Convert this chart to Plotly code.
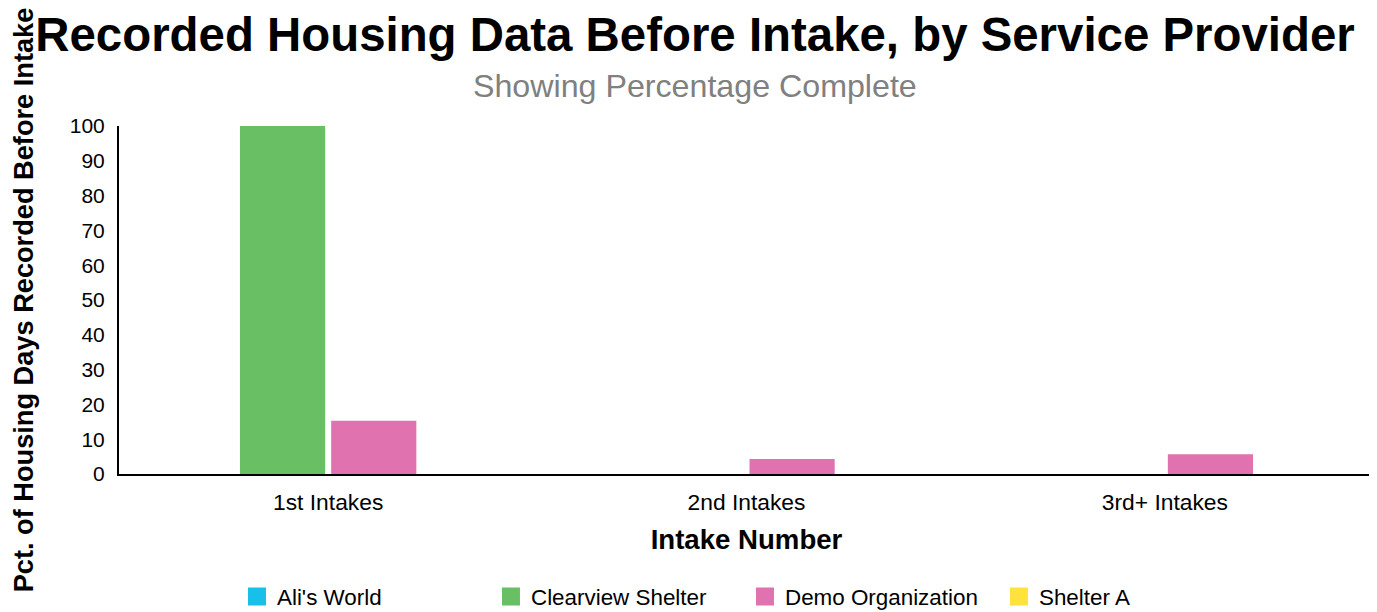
import plotly.graph_objects as go

categories = ["1st Intakes", "2nd Intakes", "3rd+ Intakes"]
providers = ["Ali's World", "Clearview Shelter", "Demo Organization", "Shelter A"]
alis_world = [0, 0, 0]
clearview_shelter = [100, 0, 0]
demo_organization = [15.3, 4.3, 5.7]
shelter_a = [0, 0, 0]
colors = ["#17C0E8", "#69BF63", "#E072B0", "#FFE33C"]
y_ticks = [0, 10, 20, 30, 40, 50, 60, 70, 80, 90, 100]

FONT = "Liberation Sans, Arial, sans-serif"
W, H = 1369, 604

fig = go.Figure()
for name, vals, col in zip(providers, [alis_world, clearview_shelter, demo_organization, shelter_a], colors):
    fig.add_trace(go.Bar(name=name, x=categories, y=vals, legendgroup=name, showlegend=False,
                         marker=dict(color=col, line=dict(width=0))))
# legend entries (larger square swatches)
for name, col in zip(providers, colors):
    fig.add_trace(go.Scatter(name=name, x=[None], y=[None], mode="markers", legendgroup=name,
                             marker=dict(symbol="square", size=16, color=col, line=dict(width=2, color=col)),
                             hoverinfo="skip"))

fig.update_layout(
    width=W, height=H,
    paper_bgcolor="white", plot_bgcolor="white",
    font=dict(family=FONT, color="black", size=21),
    barmode="group", bargap=0.128, bargroupgap=0.066,
    margin=dict(l=111, r=3, t=118, b=138, autoexpand=False),
    title=dict(text="<b>Recorded Housing Data Before Intake, by Service Provider</b>",
               font=dict(size=47.4, family=FONT, color="black"),
               x=687/W, xanchor="center", xref="container",
               y=1-26/H, yanchor="middle", yref="container"),
    showlegend=True,
    legend=dict(orientation="h", x=0.094, xanchor="left", y=-0.353, yanchor="middle",
                font=dict(size=22.4, family=FONT), entrywidth=209, traceorder="normal",
                itemsizing="trace"),
    xaxis=dict(showline=True, linecolor="black", linewidth=2, showgrid=False, ticks="",
               tickfont=dict(size=22.8), ticklabelstandoff=7,
               title=dict(text="<b>Intake Number</b>", font=dict(size=27.6), standoff=15)),
    yaxis=dict(range=[0, 100], tickvals=y_ticks, showline=True, linecolor="black", linewidth=2,
               showgrid=False, zeroline=False, ticks="", tickfont=dict(size=21),
               ticklabelstandoff=8,
               title=dict(text="<b>Pct. of Housing Days Recorded Before Intake</b>", font=dict(size=27.2), standoff=30)),
)
fig.add_annotation(text="Showing Percentage Complete", xref="paper", yref="paper",
                   x=0.459, y=1.115, xanchor="center", yanchor="middle",
                   showarrow=False, font=dict(size=32.2, color="#808080", family=FONT))

fig.write_html("out.html")
